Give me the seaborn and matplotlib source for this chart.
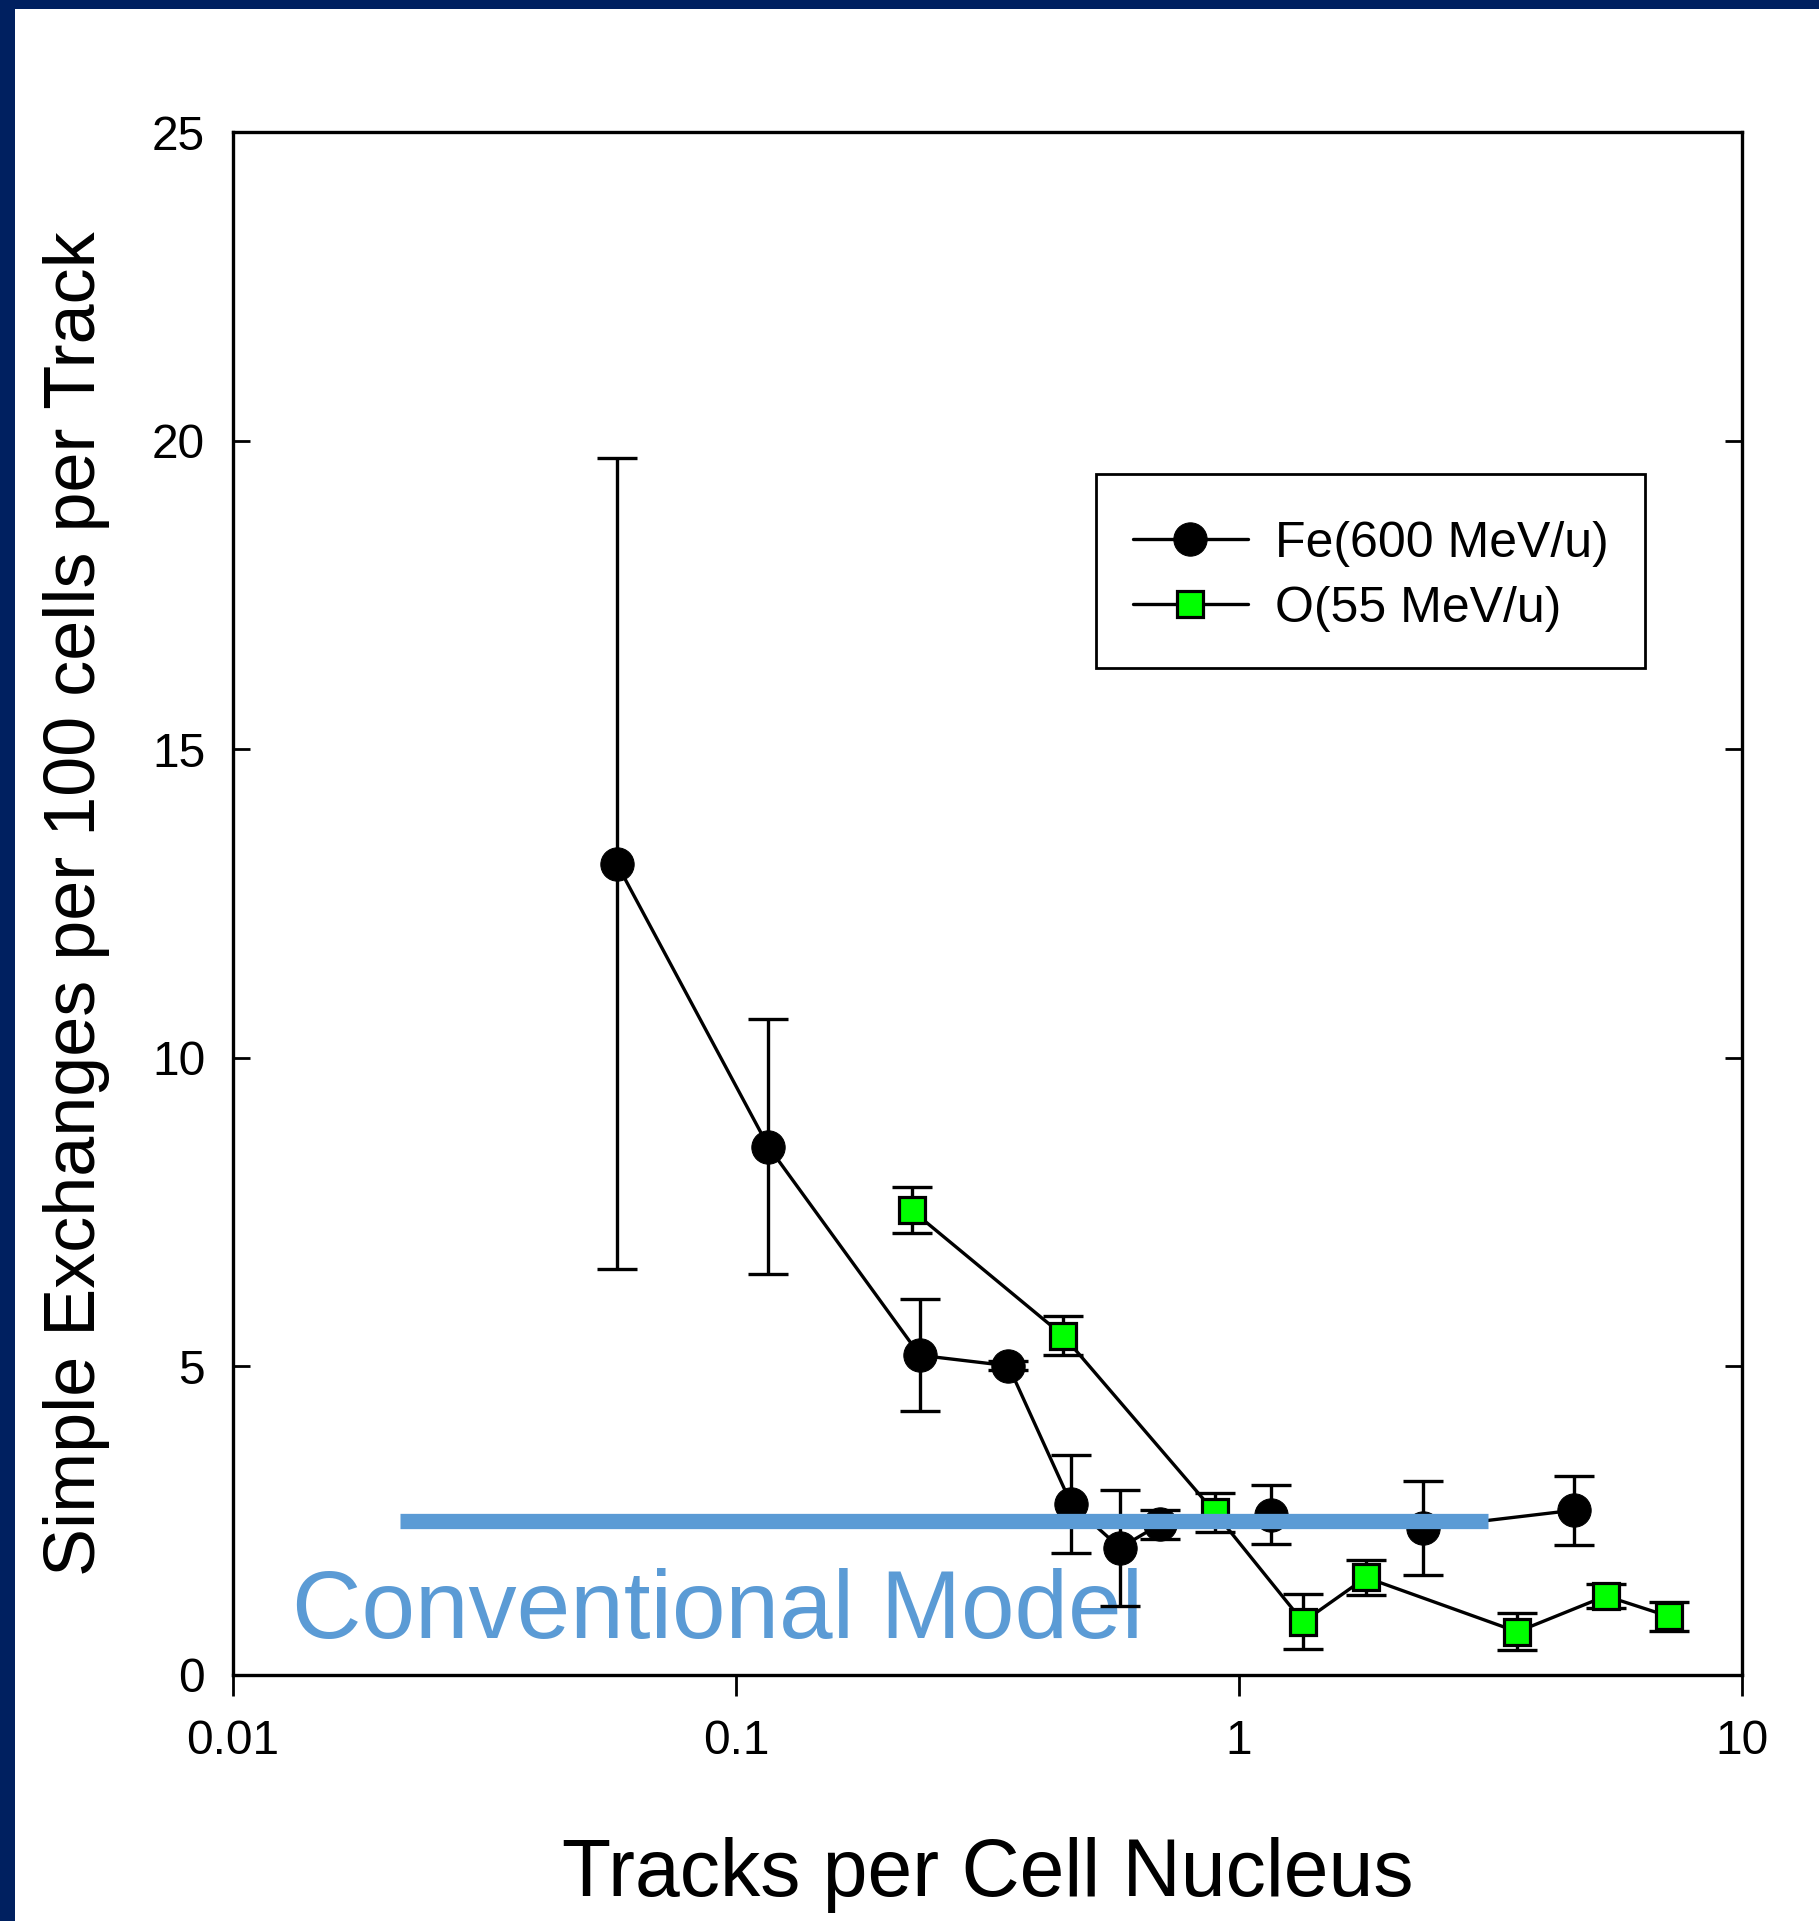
import matplotlib
matplotlib.use("Agg")
import matplotlib.pyplot as plt
import pandas as pd
import seaborn as sns
from matplotlib.patches import Rectangle
from matplotlib.ticker import NullLocator

# Fe(600 MeV/u): tracks per nucleus, simple exchanges per 100 cells per track, error
fe_tracks = [0.058, 0.116, 0.232, 0.348, 0.464, 0.580, 0.696, 1.16, 2.32, 4.64]
fe_exchanges = [13.14, 8.56, 5.18, 5.01, 2.77, 2.06, 2.44, 2.60, 2.38, 2.67]
fe_err = [6.57, 2.07, 0.91, 0.07, 0.80, 0.94, 0.24, 0.48, 0.76, 0.56]

# O(55 MeV/u)
o_tracks = [0.2235, 0.447, 0.894, 1.341, 1.788, 3.576, 5.364, 7.152]
o_exchanges = [7.53, 5.50, 2.64, 0.86, 1.58, 0.70, 1.28, 0.95]
o_err = [0.375, 0.32, 0.315, 0.445, 0.29, 0.30, 0.20, 0.23]

# Conventional model expectation
model_range = [0.0215, 3.12]
model_level = 2.5

series_labels = ["Fe(600 MeV/u)", "O(55 MeV/u)"]
x_ticks = [0.01, 0.1, 1, 10]
x_tick_labels = ["0.01", "0.1", "1", "10"]
y_ticks = [0, 5, 10, 15, 20, 25]

sns.set_theme(style="white")
plt.rcParams["font.family"] = ["Liberation Sans", "DejaVu Sans"]

W, H = 1819, 1921
fig = plt.figure(figsize=(W / 100, H / 100), dpi=100)
fig.patch.set_facecolor("white")
ax = fig.add_axes([233 / W, 1 - 1675 / H, (1742 - 233) / W, (1675 - 132) / H])

# slide frame: navy bands along the top and left edges
navy = "#002060"
fig.patches.append(Rectangle((0, 1 - 9 / H), 1, 9 / H, transform=fig.transFigure,
                             facecolor=navy, edgecolor="none"))
fig.patches.append(Rectangle((0, 0), 15 / W, 1, transform=fig.transFigure,
                             facecolor=navy, edgecolor="none"))

fe_df = pd.DataFrame({"tracks": fe_tracks, "exchanges": fe_exchanges, "err": fe_err})
o_df = pd.DataFrame({"tracks": o_tracks, "exchanges": o_exchanges, "err": o_err})

ax.text(0.0131, 0.6, "Conventional Model", color="#5B9BD5", fontsize=69.3,
        ha="left", va="baseline", zorder=1)

err_kw = dict(fmt="none", ecolor="black", elinewidth=2.4, capsize=14.5, capthick=2.4, zorder=3)
ax.errorbar(fe_df["tracks"], fe_df["exchanges"], yerr=fe_df["err"], **err_kw)
ax.errorbar(o_df["tracks"], o_df["exchanges"], yerr=o_df["err"], **err_kw)

sns.lineplot(data=fe_df, x="tracks", y="exchanges", ax=ax, estimator=None, sort=False,
             color="black", linewidth=2.4, marker="o", markersize=24,
             markerfacecolor="black", markeredgecolor="black", label=series_labels[0], zorder=4)
sns.lineplot(data=o_df, x="tracks", y="exchanges", ax=ax, estimator=None, sort=False,
             color="black", linewidth=2.4, marker="s", markersize=19,
             markerfacecolor="#00FF00", markeredgecolor="black", markeredgewidth=2.3,
             label=series_labels[1], zorder=4)

ax.plot(model_range, [model_level, model_level], color="#5B9BD5", linewidth=11,
        solid_capstyle="butt", zorder=6)

ax.set_xscale("log")
ax.set_xlim(0.01, 10)
ax.set_ylim(0, 25)
ax.set_xticks(x_ticks, labels=x_tick_labels)
ax.xaxis.set_minor_locator(NullLocator())
ax.set_yticks(y_ticks)

for spine in ax.spines.values():
    spine.set_visible(True)
    spine.set_color("black")
    spine.set_linewidth(2.4)

ax.tick_params(axis="y", which="major", direction="in", left=True, right=True,
               length=12, width=2, labelsize=34.5, pad=20, colors="black")
ax.tick_params(axis="x", which="major", direction="out", bottom=True, top=False,
               length=15, width=2, labelsize=34.5, pad=17, colors="black")

ax.set_xlabel("Tracks per Cell Nucleus", fontsize=58, color="black")
ax.xaxis.set_label_coords(0.5, -0.1432)
ax.xaxis.label.set_va("baseline")
ax.set_ylabel("Simple Exchanges per 100 cells per Track", fontsize=51.8, color="black")
ax.yaxis.set_label_coords(-0.0915, 0.5)
ax.yaxis.label.set_va("baseline")

# legend box outline, then the entries inside it
legend_box = Rectangle((0.5719, 0.6526), 0.9357 - 0.5719, 0.7784 - 0.6526,
                       transform=ax.transAxes, facecolor="white", edgecolor="black",
                       linewidth=2.0, zorder=4.9)
ax.add_patch(legend_box)
leg = ax.legend(loc="upper left", bbox_to_anchor=(0.5719, 0.7719), borderaxespad=0,
                fontsize=36, frameon=False, borderpad=0.74, labelspacing=0.38,
                handlelength=2.3, handletextpad=0.55)
for t in leg.get_texts():
    t.set_color("black")

fig.savefig("out.png", dpi=100)
